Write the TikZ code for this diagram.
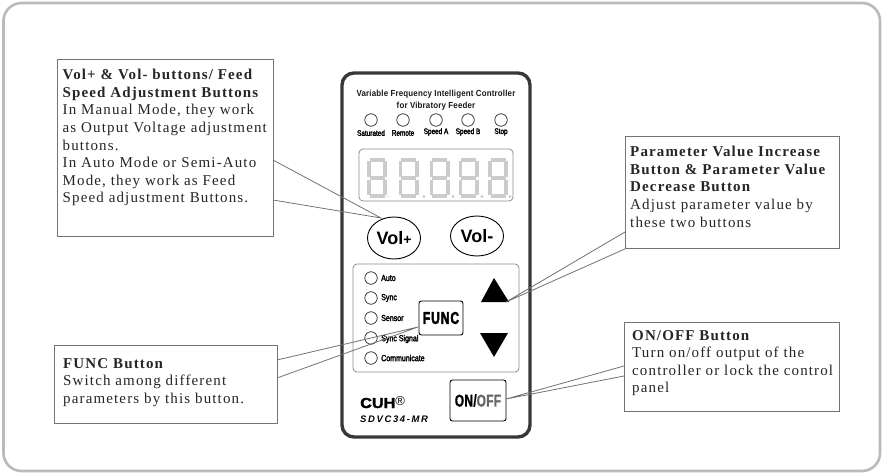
\documentclass[tikz,border=0pt]{standalone}
\usepackage{fontspec}
\setmainfont{Liberation Serif}
\newfontfamily\calloutfont[LetterSpace=7.6]{Liberation Serif}
\newfontfamily\panelfont{Liberation Sans}
\newfontfamily\titlefont[FakeStretch=0.9,LetterSpace=2]{Liberation Sans}
\newfontfamily\condfont[FakeStretch=0.7,FakeBold=2.5,LetterSpace=6]{Liberation Sans Bold}
\newfontfamily\onofffont[FakeStretch=0.7,FakeBold=1,LetterSpace=2]{Liberation Sans Bold}
\newfontfamily\ledfont[FakeStretch=0.8,FakeBold=2.5]{Liberation Sans}
\newfontfamily\cuhfont[FakeStretch=1.12,FakeBold=2]{Liberation Sans Bold}
\newfontfamily\modelfont[LetterSpace=17]{Liberation Sans Bold Italic}
\colorlet{calloutgray}{black!55}
\usetikzlibrary{shapes.geometric}
\tikzset{
  x=1pt,y=-1pt,
  callout/.style={draw=calloutgray,line width=.9pt,fill=white},
  ptr/.style={draw=calloutgray,line width=.8pt},
  calltext/.style={anchor=north west,inner sep=0pt,align=left,font=\fontsize{15}{17.6}\selectfont\calloutfont,text=black!85},
  panelbox/.style={draw=black!45,line width=.8pt,rounded corners=4pt,fill=white},
  led/.style={circle,draw=black!85,line width=.7pt,minimum size=12.5pt,inner sep=0pt},
  ledtext/.style={anchor=west,inner sep=0pt,font=\fontsize{8.8}{8.8}\selectfont\ledfont,text=black},
  toptext/.style={anchor=center,inner sep=0pt,font=\fontsize{8}{8}\selectfont\ledfont,text=black},
  voloval/.style={ellipse,draw=black,line width=.9pt,minimum width=53pt,minimum height=42pt,inner sep=0pt},
  segm/.style={draw=black!20,line width=3.6pt,line cap=butt},
  btn/.style={draw=black,line width=.9pt,rounded corners=2.5pt,fill=white,inner sep=0pt},
}
\newcommand{\segdigit}[3]{%
  \begin{scope}[shift={(#1,158)}]
    \draw[segm] (2.5,1.8)--(17.5,1.8);
    \draw[segm] (2.5,20)--(17.5,20);
    \draw[segm] (2.5,38)--(17.5,38);
    \draw[segm] (1.8,3)--(1.8,18.5);
    \draw[segm] (18.2,3)--(18.2,18.5);
    \draw[segm] (1.8,21.5)--(1.8,36.5);
    \draw[segm] (18.2,21.5)--(18.2,36.5);
    \fill[black!#3] (#2,38.5) circle (1.4);
  \end{scope}}
\begin{document}
\begin{tikzpicture}
\useasboundingbox (0,0) rectangle (882,473);
\fill[white] (0,0) rectangle (882,473);
\draw[black!27,line width=2.6pt,rounded corners=18pt] (3.5,3) rectangle (880,471);

% device
\draw[draw=black!78,line width=3.4pt,rounded corners=12pt] (342,73) rectangle (530,437);
\node[inner sep=0pt,align=center,font=\fontsize{8.8}{12}\selectfont\titlefont\bfseries,text=black!90] (title) at (436,100) {Variable Frequency Intelligent Controller\\for Vibratory Feeder};

\node[led] (l1) at (371,120) {};
\node[led] (l2) at (403,120) {};
\node[led] (l3) at (436,120) {};
\node[led] (l4) at (468,120) {};
\node[led] (l5) at (501,120) {};
\node[toptext] (t1) at (371,133) {Saturated};
\node[toptext] (t2) at (403,133) {Remote};
\node[toptext] (t3) at (436,132) {Speed A};
\node[toptext] (t4) at (468,132) {Speed B};
\node[toptext] (t5) at (501,132) {Stop};

\draw[panelbox] (359,149) rectangle (513,201);
\segdigit{367}{21}{8}\segdigit{398.5}{25.5}{25}\segdigit{429.5}{23.5}{25}\segdigit{458.5}{23.5}{25}\segdigit{488}{22}{25}

\node[voloval] (volp) at (394,238) {};
\node[voloval,minimum height=40pt] (volm) at (477,236) {};
\node[inner sep=0pt,font=\fontsize{18}{18}\selectfont\panelfont\bfseries] at (394,238) {Vol{\fontsize{14}{14}\selectfont+}};
\node[inner sep=0pt,font=\fontsize{18}{18}\selectfont\panelfont\bfseries] at (477,236) {Vol-};

\draw[panelbox] (353,264) rectangle (519,372);
\node[led] (a1) at (371,278) {};
\node[led] (a2) at (371,298) {};
\node[led] (a3) at (371,318) {};
\node[led] (a4) at (371,338) {};
\node[led] (a5) at (371,358) {};
\node[ledtext] (b1) at (381,278) {Auto};
\node[ledtext] (b2) at (381,298) {Sync};
\node[ledtext] (b3) at (381,318) {Sensor};
\node[ledtext] (b4) at (381,339) {Sync Signal};
\node[ledtext] (b5) at (381,358) {Communicate};

\node[btn,minimum width=44pt,minimum height=34pt,font=\fontsize{17}{17}\selectfont\condfont] (func) at (441,318) {FUNC};
\fill[black] (494,278) -- (481,302) -- (509,302) -- cycle;
\fill[black] (480,333) -- (508,333) -- (494,357) -- cycle;
\node[btn,minimum width=56pt,minimum height=41pt,font=\fontsize{17}{17}\selectfont\onofffont] (onoff) at (478,400.5) {ON/\textcolor{black!60}{OFF}};

\node[anchor=base west,inner sep=0pt,font=\fontsize{14.5}{14.5}\selectfont\cuhfont] (cuh) at (360,408) {CUH\raisebox{3pt}{\fontsize{13}{13}\selectfont\panelfont\textregistered}};
\node[anchor=base west,inner sep=0pt,font=\fontsize{9.5}{9.5}\selectfont\modelfont] (model) at (360,422) {SDVC34-MR};

% callouts
\coordinate (tipvol) at (381,218);
\coordinate (tipfunc) at (418,327);
\coordinate (tippar) at (506,302);
\coordinate (tipon) at (506,399);

\draw[callout] (57,59) rectangle (273,236);
\coordinate (c1a) at (273,160); \coordinate (c1b) at (273,200);
\draw[ptr] (c1a) -- (tipvol) -- (c1b);
\node[calltext] (ctext1) at (62.5,69) {\textbf{Vol+ \& Vol- buttons/ Feed}\\\textbf{Speed Adjustment Buttons}\\In Manual Mode, they work\\as Output Voltage adjustment\\buttons.\\In Auto Mode or Semi-Auto\\Mode, they work as Feed\\Speed adjustment Buttons.};

\draw[callout] (54,345) rectangle (277,423);
\coordinate (c2a) at (277,360); \coordinate (c2b) at (277,378);
\draw[ptr] (c2a) -- (tipfunc) -- (c2b);
\node[calltext] (ctext2) at (63,358) {\textbf{FUNC Button}\\Switch among different\\parameters by this button.};

\draw[callout] (625,136) rectangle (839,248);
\coordinate (c3a) at (625,232); \coordinate (c3b) at (627,248);
\draw[ptr] (c3a) -- (tippar) -- (c3b);
\node[calltext] (ctext3) at (630,146) {\textbf{Parameter Value Increase}\\\textbf{Button \& Parameter Value}\\\textbf{Decrease Button}\\Adjust parameter value by\\these two buttons};

\draw[callout] (624,322) rectangle (839,411);
\coordinate (c4a) at (624,366); \coordinate (c4b) at (624,376);
\draw[ptr] (c4a) -- (tipon) -- (c4b);
\node[calltext] (ctext4) at (632,330) {\textbf{ON/OFF Button}\\Turn on/off output of the\\controller or lock the control\\panel};
\end{tikzpicture}
\end{document}
